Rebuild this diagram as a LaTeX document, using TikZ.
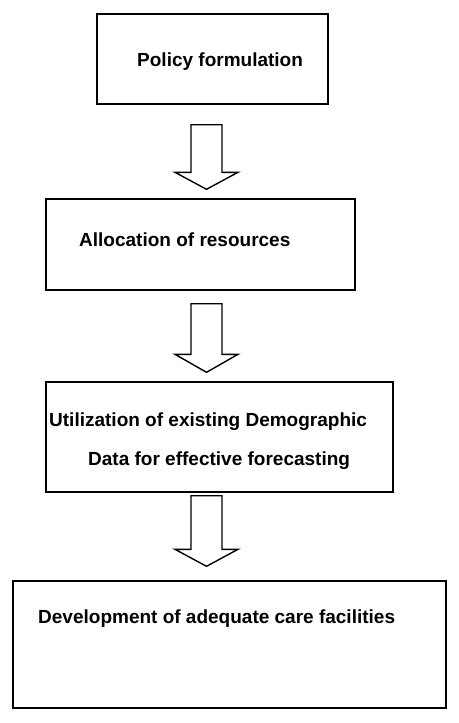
\documentclass[tikz,border=0pt]{standalone}
\usepackage{fontspec}
\setmainfont{Liberation Sans}
\usetikzlibrary{calc}

\begin{document}
\begin{tikzpicture}[x=1pt,y=-1pt,
  box/.style={draw,line width=1.4pt,inner sep=0pt},
  lbl/.style={anchor=base west,inner sep=0pt,font=\bfseries\fontsize{19}{22}\selectfont},
  blockarrow/.style={draw,line width=1.4pt,line join=miter}]
\useasboundingbox (0,0) rectangle (458,723);
% boxes
\node[box,minimum width=231pt,minimum height=90pt] (pol) at (212.5,59) {};
\node[box,minimum width=309pt,minimum height=91pt] (alloc) at (200.5,244.5) {};
\node[box,minimum width=347pt,minimum height=110pt] (util) at (219.5,437) {};
\node[box,minimum width=433pt,minimum height=127pt] (dev) at (229.5,644.5) {};
% texts
\node[lbl] (poltxt) at (137,66) {Policy formulation};
\node[lbl] (alloctxt) at (79,246) {Allocation of resources};
\node[lbl] (utiltxt) at (49,426) {Utilization of existing Demographic};
\node[lbl] (utiltxtb) at (88,465) {Data for effective forecasting};
\node[lbl] (devtxt) at (38,623.5) {Development of adequate care facilities};
% hollow arrows
\foreach \a/\b/\g/\h/\l in {pol/alloc/20/9/17,alloc/util/13/9/18,util/dev/3/14/17}{
  \draw[blockarrow] let \p1=($(\a.south)+(0,\g)$), \p2=($(\b.north)+(0,-\h)$) in
    (191pt,\y1) -- (191pt,\y2+\l pt) -- (175pt,\y2+\l pt) -- (206.5pt,\y2)
    -- (238pt,\y2+\l pt) -- (222pt,\y2+\l pt) -- (222pt,\y1) -- cycle;
}
\end{tikzpicture}
\end{document}
